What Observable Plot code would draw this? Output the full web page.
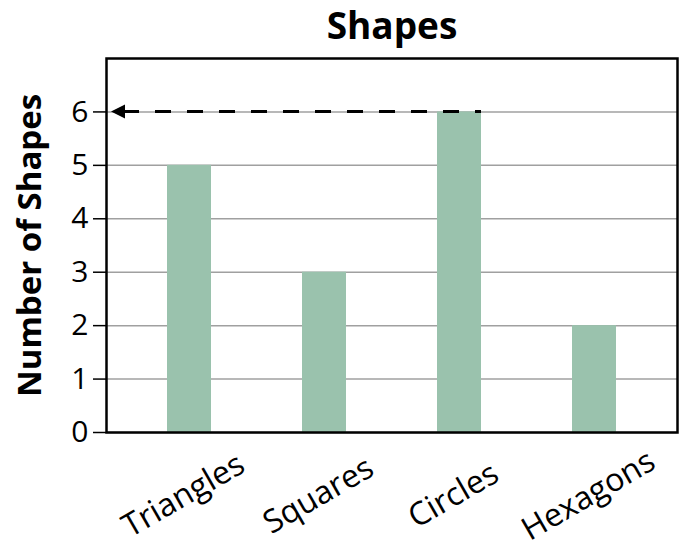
<!DOCTYPE html>
<html><head><meta charset="utf-8">
<script src="https://cdn.jsdelivr.net/npm/d3@7"></script>
<script src="https://cdn.jsdelivr.net/npm/@observablehq/plot@0.6"></script>
<style>body{margin:0;background:#fff}</style>
</head><body><div id="chart"></div>
<script>
const title = "Shapes";
const yLabel = "Number of Shapes";
const categories = ["Triangles", "Squares", "Circles", "Hexagons"];
const counts = [5, 3, 6, 2];
const yTicks = [0, 1, 2, 3, 4, 5, 6];
const highlighted = "Circles";

const data = categories.map((c, i) => ({shape: c, count: counts[i]}));
const barColor = "#9ac2ad";
const font = "'Open Sans', 'Noto Sans', sans-serif";

function arrowMark(index, scales, values, dimensions) {
  const {x, y} = scales;
  const d = data.find(d => d.shape === highlighted);
  const xStart = x(d.shape) + x.bandwidth();
  const yv = y(d.count);
  const xTip = dimensions.marginLeft + 5;
  const g = d3.create("svg:g");
  g.append("line")
    .attr("x1", xTip + 12).attr("x2", xStart)
    .attr("y1", yv).attr("y2", yv)
    .attr("stroke", "black").attr("stroke-width", 3)
    .attr("stroke-dasharray", "16,16");
  g.append("path")
    .attr("d", `M${xTip},${yv}L${xTip + 14},${yv - 7}L${xTip + 14},${yv + 7}Z`)
    .attr("fill", "black");
  return g.node();
}

const chart = Plot.plot({
  width: 679,
  height: 547,
  marginLeft: 106,
  marginRight: 2,
  marginTop: 58,
  marginBottom: 115,
  style: {fontFamily: font, fontSize: "30px", background: "#fff", color: "black", overflow: "visible"},
  x: {domain: categories, paddingInner: 0.675, paddingOuter: 0.4475, axis: null},
  y: {domain: [0, 7], axis: null},
  marks: [
    Plot.gridY(yTicks, {stroke: "#a0a0a0", strokeOpacity: 1, strokeWidth: 1.5}),
    Plot.barY(data, {x: "shape", y: "count", fill: barColor}),
    Plot.frame({stroke: "black", strokeWidth: 2.5}),
    Plot.axisY({ticks: yTicks, tickSize: 13, tickPadding: 5, tickFormat: d => String(d), label: null, strokeWidth: 1.5, fontSize: 30}),
    Plot.text(data, {x: "shape", text: "shape", frameAnchor: "bottom", dy: 63, dx: -6, rotate: -30, textAnchor: "middle", lineAnchor: "middle", fontSize: 32}),
    Plot.text([title], {frameAnchor: "top", dy: -46, fontSize: 37, fontWeight: "bold", textAnchor: "middle", lineAnchor: "top"}),
    Plot.text([yLabel], {frameAnchor: "left", dx: -76, rotate: -90, fontSize: 33, fontWeight: "bold", textAnchor: "middle", lineAnchor: "middle"}),
    arrowMark
  ]
});
document.getElementById("chart").appendChild(chart);
</script>
</body></html>
